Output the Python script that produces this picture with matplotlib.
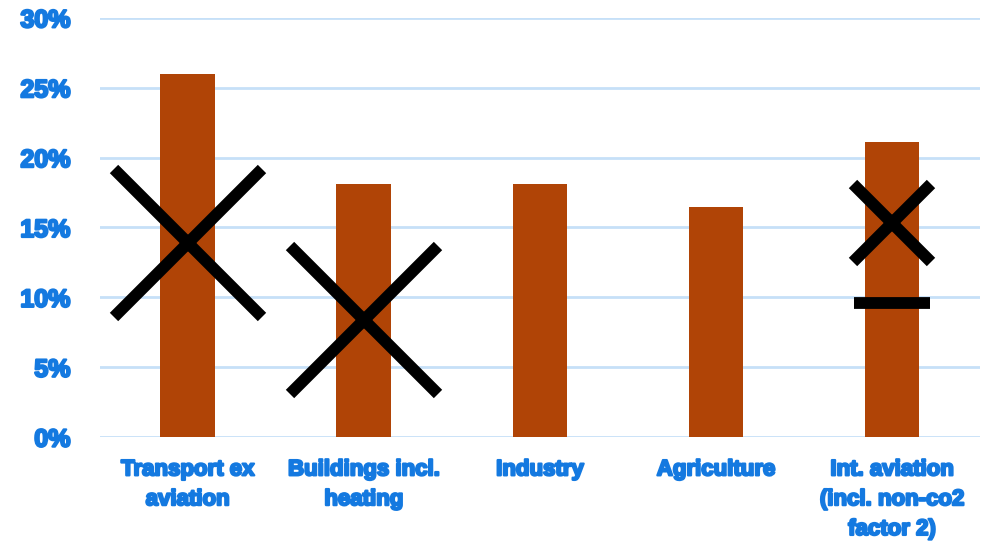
import matplotlib
matplotlib.use("Agg")
import matplotlib.pyplot as plt
import matplotlib.patheffects as pe
import numpy as np

# Data
categories = ["Transport ex\naviation", "Buildings incl.\nheating", "Industry",
              "Agriculture", "Int. aviation\n(incl. non-co2\nfactor 2)"]
shares = [26.0, 18.1, 18.1, 16.5, 21.1]

# Cross markers (category index, value, size in points)
cross_idx = [0, 1, 4]
cross_val = [13.9, 8.4, 15.3]
cross_size = [106, 106, 56]

# Dash marker
dash_idx = [4]
dash_val = [9.6]

bar_color = "#B04406"
text_color = "#1479E0"
grid_color = "#C6E0F8"

plt.rcParams["font.family"] = ["Liberation Sans", "DejaVu Sans"]

fig, ax = plt.subplots(figsize=(9.86, 5.41), dpi=100)
fig.subplots_adjust(left=0.101, right=0.994, bottom=0.192, top=0.967)

x = np.arange(len(categories))
ax.bar(x, shares, width=0.31, color=bar_color, zorder=2)

for i, v, s in zip(cross_idx, cross_val, cross_size):
    ax.plot(x[i], v, marker="x", markersize=s, markeredgewidth=8.5,
            color="black", linestyle="none", zorder=3)
for i, v in zip(dash_idx, dash_val):
    ax.plot(x[i], v, marker="_", markersize=55, markeredgewidth=8.5,
            color="black", linestyle="none", zorder=3)

ax.set_xlim(-0.5, len(categories) - 0.5)
ax.set_ylim(0, 30)
ax.set_yticks(range(0, 31, 5))
ax.set_yticklabels([f"{t}%" for t in range(0, 31, 5)])
ax.set_xticks(x)
ax.set_xticklabels(categories, linespacing=1.55)

ax.yaxis.grid(True, color=grid_color, linewidth=2, zorder=0)
ax.set_axisbelow(True)
for sp in ax.spines.values():
    sp.set_visible(False)
ax.tick_params(axis="both", length=0, labelcolor=text_color)
ax.tick_params(axis="y", pad=21, labelsize=18)
ax.tick_params(axis="x", pad=16, labelsize=16)

# heavier text, closer to the black weight of the original
heavy = [pe.withStroke(linewidth=1.6, foreground=text_color)]
for lbl in ax.get_xticklabels() + ax.get_yticklabels():
    lbl.set_fontweight("bold")
    lbl.set_path_effects(heavy)

plt.savefig("out.png", dpi=100)
